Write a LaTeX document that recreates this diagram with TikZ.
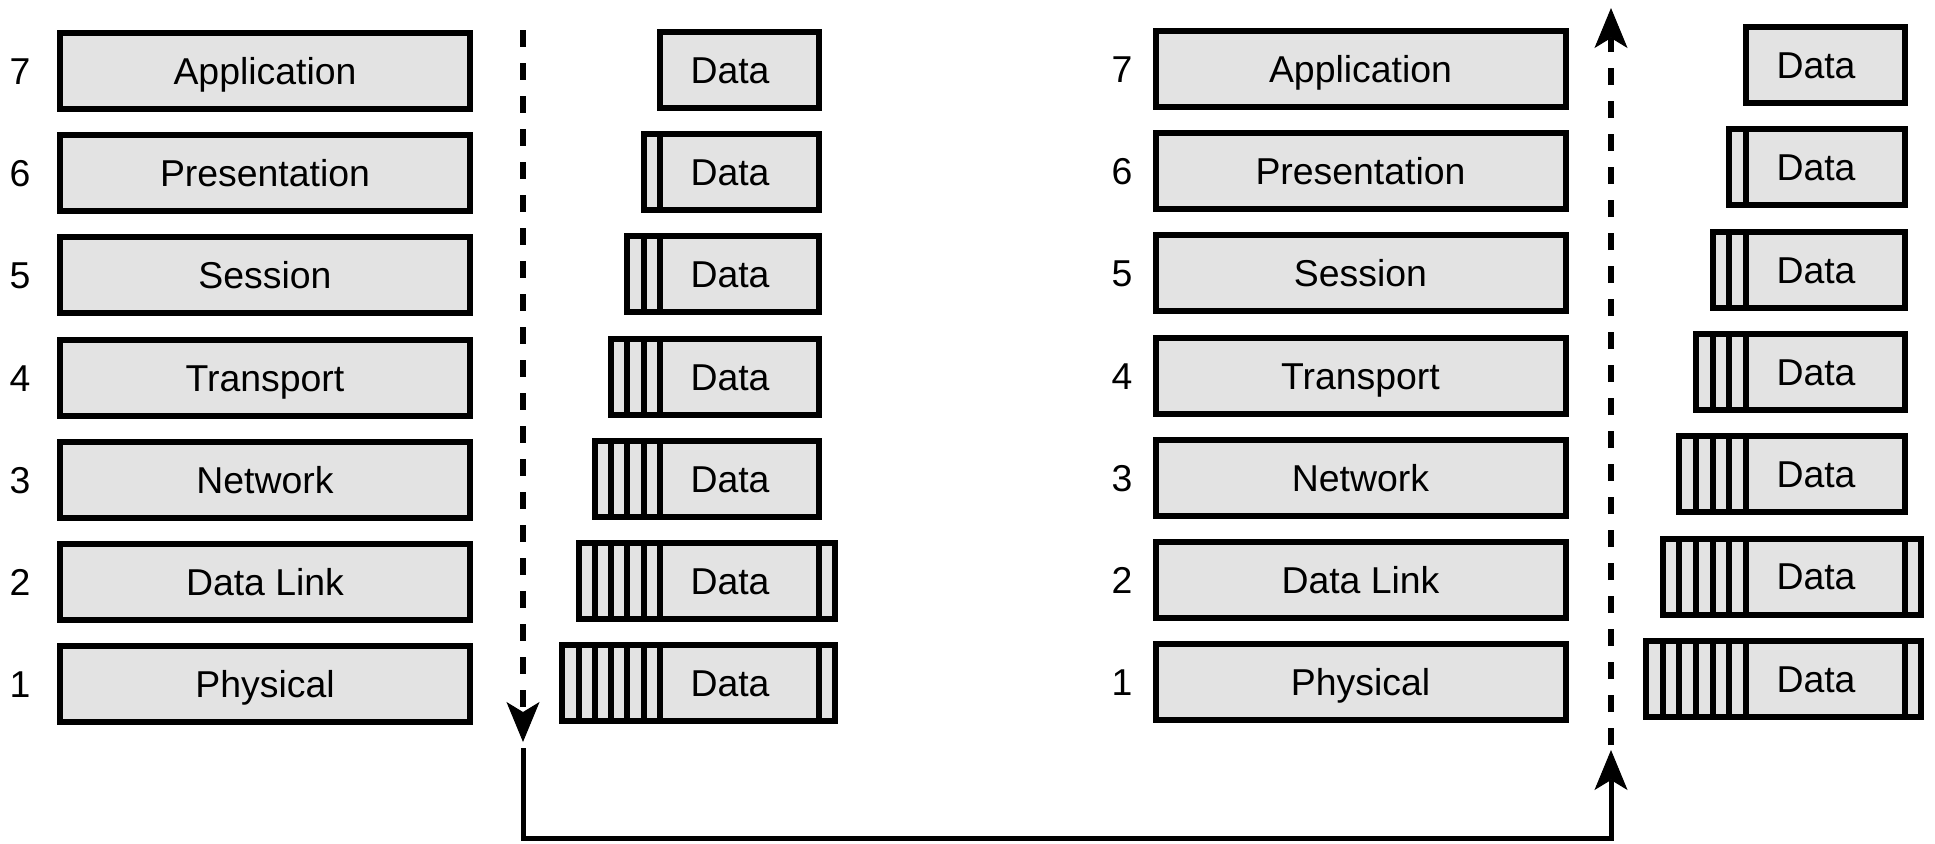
\documentclass[tikz,border=0pt]{standalone}
\usepackage{fontspec}
\setmainfont{Liberation Sans}
\usetikzlibrary{arrows.meta}
\definecolor{boxgray}{RGB}{227,227,227}

\begin{document}
\begin{tikzpicture}[x=0.5pt,y=-0.5pt,
  every node/.style={font=\fontsize{18.7pt}{22pt}\selectfont, inner sep=0pt, outer sep=0pt,
                     text height=13.4pt, text depth=0pt},
  layerbox/.style={draw, line width=3pt, fill=boxgray, minimum width=205pt, minimum height=38pt},
  datasec/.style={draw, line width=3pt, fill=boxgray, minimum width=79.5pt, minimum height=38pt,
                  execute at end node={\hspace{9.5pt}}},
  hdr/.style={draw, line width=3pt, fill=boxgray},
  bigtip/.style={-{Stealth[length=20pt, width=16.5pt, inset=5pt, line width=0.5pt]}},
  flowdash/.style={line width=3pt, dash pattern=on 8.5pt off 8pt, bigtip},
  flowsolid/.style={line width=2.5pt, line join=miter, bigtip}
]
\useasboundingbox (0,0) rectangle (1935,843);

% ---- sending stack (left) ----
\foreach \lvl/\name [count=\k from 0] in {7/Application,6/Presentation,5/Session,4/Transport,3/Network,2/Data Link,1/Physical} {
  \pgfmathsetmacro\yl{71+102.2*\k}
  \pgfmathsetmacro\yd{70+102.2*\k}
  \node[layerbox] (LA\lvl) at (265,\yl) {\name};
  \node (NA\lvl) at (20,\yl) {\lvl};
  \node[datasec] (DA\lvl) at (739.5,\yd) {Data};
  \ifnum\lvl<7
    \pgfmathtruncatemacro\nh{7-\lvl}
    \foreach \j in {1,...,\nh} {
      \draw[hdr] ([xshift={-8.15pt*\j}]DA\lvl.north west) rectangle ([xshift={-8.15pt*(\j-1)}]DA\lvl.south west);
    }
  \fi
  \ifnum\lvl<3
    \draw[hdr] (DA\lvl.north east) rectangle ([xshift=8pt]DA\lvl.south east);
  \fi
}

% ---- receiving stack (right) ----
\foreach \lvl/\name [count=\k from 0] in {7/Application,6/Presentation,5/Session,4/Transport,3/Network,2/Data Link,1/Physical} {
  \pgfmathsetmacro\yl{69+102.2*\k}
  \pgfmathsetmacro\yd{65+102.3*\k}
  \node[layerbox] (LB\lvl) at (1360.5,\yl) {\name};
  \node (NB\lvl) at (1122,\yl) {\lvl};
  \node[datasec] (DB\lvl) at (1825.5,\yd) {Data};
  \ifnum\lvl<7
    \pgfmathtruncatemacro\nh{7-\lvl}
    \foreach \j in {1,...,\nh} {
      \draw[hdr] ([xshift={-8.35pt*\j}]DB\lvl.north west) rectangle ([xshift={-8.35pt*(\j-1)}]DB\lvl.south west);
    }
  \fi
  \ifnum\lvl<3
    \draw[hdr] (DB\lvl.north east) rectangle ([xshift=8pt]DB\lvl.south east);
  \fi
}

% ---- flow arrows ----
\coordinate (downtop) at (523,30);
\coordinate (downtip) at (523,742);
\coordinate (linkstart) at (523,748);
\coordinate (linkbend) at (1611,838);
\coordinate (linktip) at (1611,750);
\coordinate (upstart) at (1611,745);
\coordinate (uptip) at (1611,8);

\draw[flowdash] (downtop) -- (downtip);
\draw[flowsolid] (linkstart) |- (linkbend) -- (linktip);
\draw[flowdash] (upstart) -- (uptip);
\end{tikzpicture}
\end{document}
